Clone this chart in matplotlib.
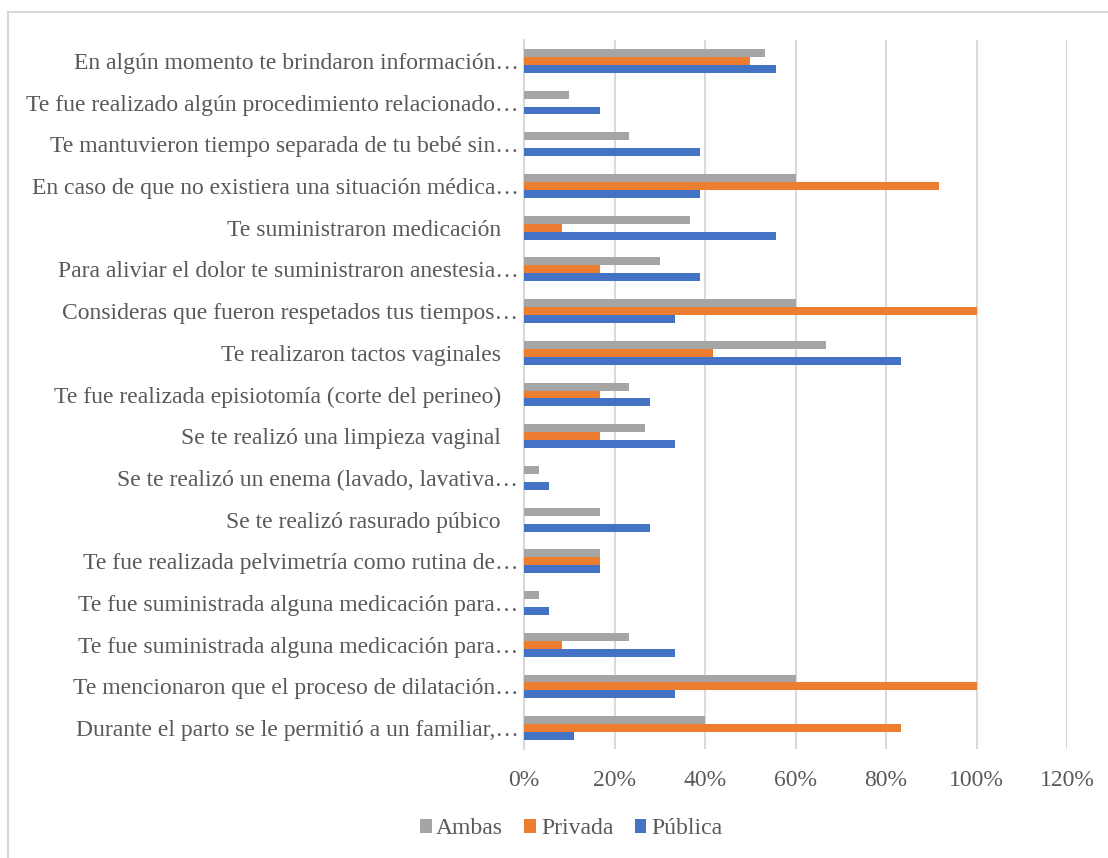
import matplotlib.pyplot as plt
from matplotlib.lines import Line2D
from matplotlib.ticker import PercentFormatter
import numpy as np

plt.rcParams['font.family'] = ['Liberation Serif', 'DejaVu Serif']

# categories listed top to bottom as they appear
preguntas = [
    'En algún momento te brindaron información…',
    'Te fue realizado algún procedimiento relacionado…',
    'Te mantuvieron tiempo separada de tu bebé sin…',
    'En caso de que no existiera una situación médica…',
    'Te suministraron medicación   ',
    'Para aliviar el dolor te suministraron anestesia…',
    'Consideras que fueron respetados tus tiempos…',
    'Te realizaron tactos vaginales   ',
    'Te fue realizada episiotomía (corte del perineo)   ',
    'Se te realizó una limpieza vaginal   ',
    'Se te realizó un enema (lavado, lavativa…',
    'Se te realizó rasurado púbico   ',
    'Te fue realizada pelvimetría como rutina de…',
    'Te fue suministrada alguna medicación para…',
    'Te fue suministrada alguna medicación para…',
    'Te mencionaron que el proceso de dilatación…',
    'Durante el parto se le permitió a un familiar,…',
]

publica = [55.6, 16.7, 38.9, 38.9, 55.6, 38.9, 33.3, 83.3, 27.8, 33.3,
           5.6, 27.8, 16.7, 5.6, 33.3, 33.3, 11.1]
privada = [50.0, 0, 0, 91.7, 8.3, 16.7, 100, 41.7, 16.7, 16.7,
           0, 0, 16.7, 0, 8.3, 100, 83.3]
ambas = [53.3, 10.0, 23.3, 60.0, 36.7, 30.0, 60.0, 66.7, 23.3, 26.7,
         3.3, 16.7, 16.7, 3.3, 23.3, 60.0, 40.0]

series = [('Pública', publica, '#4472C4'),
          ('Privada', privada, '#ED7D31'),
          ('Ambas', ambas, '#A5A5A5')]

fig = plt.figure(figsize=(11.08, 8.58), dpi=100)
ax = fig.add_axes([524 / 1108, 1 - 749 / 858, (1067 - 524) / 1108, (749 - 40) / 858])

n = len(preguntas)
y = np.arange(n)[::-1]
h = 0.19
for k, (nombre, vals, color) in enumerate(series):
    ax.barh(y + (k - 1) * h, vals, height=h, color=color, label=nombre, zorder=3)

ax.set_xlim(0, 120)
ax.set_ylim(-0.5, n - 0.5)
ax.set_xticks(np.arange(0, 121, 20))
ax.xaxis.set_major_formatter(PercentFormatter(decimals=0))
ax.set_yticks(y)
ax.set_yticklabels(preguntas)

ax.grid(axis='x', color='#D9D9D9', linewidth=1.5, zorder=0)
for s in ['top', 'right', 'bottom']:
    ax.spines[s].set_visible(False)
ax.spines['left'].set_color('#D9D9D9')
ax.spines['left'].set_linewidth(1.5)
ax.tick_params(axis='both', length=0, labelsize=17, colors='#595959')
ax.tick_params(axis='x', pad=15)
ax.tick_params(axis='y', pad=4)

# thin frame around the chart
fig.add_artist(Line2D([8 / 1108, 8 / 1108], [0, 1 - 12 / 858], color='#D9D9D9', lw=1.5))
fig.add_artist(Line2D([8 / 1108, 1], [1 - 12 / 858, 1 - 12 / 858], color='#D9D9D9', lw=1.5))

handles, labels = ax.get_legend_handles_labels()
fig.legend(handles[::-1], labels[::-1], loc='center', bbox_to_anchor=(571 / 1108, 1 - 829 / 858),
           ncol=3, frameon=False, fontsize=17, labelcolor='#595959',
           handlelength=0.5, handleheight=0.5, handletextpad=0.2, columnspacing=0.9)

fig.savefig('out.png', dpi=100)
